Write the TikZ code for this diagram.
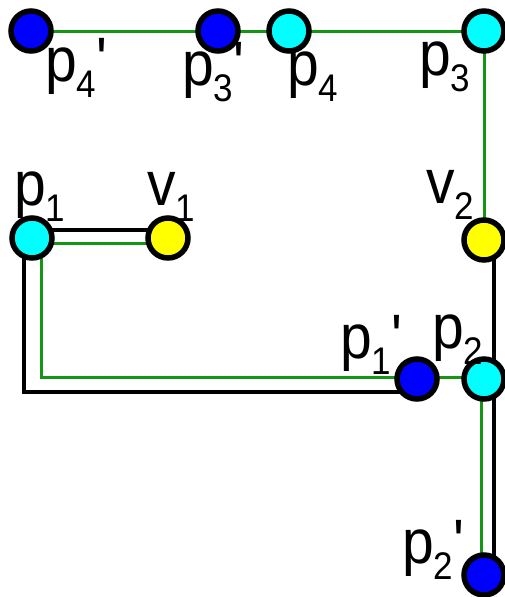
\documentclass[tikz,border=0pt]{standalone}
\usepackage{fontspec}
\setmainfont{Liberation Sans}
\newcommand\lsub[1]{\raisebox{-0.26em}{\fontsize{35}{35}\selectfont #1}}
\newcommand\lprime{\textquotesingle}
\newcommand\ltxt[1]{\scalebox{1}[1.1]{#1}}
\definecolor{lgreen}{RGB}{20,150,20}
\definecolor{dblue}{RGB}{0,0,255}
\definecolor{dcyan}{RGB}{0,255,255}
\definecolor{dyellow}{RGB}{255,255,0}
\tikzset{
  dot/.style={circle,draw=black,line width=5.5pt,minimum size=40pt,inner sep=0pt},
  bluedot/.style={dot,fill=dblue},
  cyandot/.style={dot,fill=dcyan},
  yellowdot/.style={dot,fill=dyellow},
  gline/.style={draw=lgreen,line width=3pt},
  kline/.style={draw=black,line width=3.2pt},
  lab/.style={anchor=base west,inner sep=0pt,font=\fontsize{57}{57}\selectfont}
}
\begin{document}
\begin{tikzpicture}[x=1pt,y=-1pt]
\useasboundingbox (0,0) rectangle (504,597);
% node coordinates
\coordinate (cp4p) at (31,31);
\coordinate (cp3p) at (218,31);
\coordinate (cp4) at (289,31);
\coordinate (cp3) at (484,31);
\coordinate (cv2) at (484,240);
\coordinate (cp1) at (32,238);
\coordinate (cv1) at (168,238);
\coordinate (cp1p) at (417,379);
\coordinate (cp2) at (484,379);
\coordinate (cp2p) at (484,575);
% connectors
\draw[gline] (cp4p) -- (cp3p) -- (cp4) -- (cp3) -- (cv2);
\draw[kline] ([xshift=10pt]cv2) -- ([xshift=10pt]cp2p);
\draw[kline] ([yshift=8pt]cv1) -| ([xshift=-8pt]cp1) |- ([yshift=-13pt]cp1p);
\draw[gline] ([yshift=-5pt]cv1) -| ([xshift=9pt]cp1) |- ([xshift=-3pt,yshift=2pt]cp2) -- ([xshift=-3pt]cp2p);
% nodes
\node[bluedot] (p4p) at (cp4p) {};
\node[bluedot] (p3p) at (cp3p) {};
\node[cyandot] (p4) at (cp4) {};
\node[cyandot] (p3) at (cp3) {};
\node[yellowdot] (v2) at (cv2) {};
\node[cyandot] (p1) at (cp1) {};
\node[yellowdot] (v1) at (cv1) {};
\node[bluedot] (p1p) at (cp1p) {};
\node[cyandot] (p2) at (cp2) {};
\node[bluedot] (p2p) at (cp2p) {};
% labels
\node[lab] (lp4p) at (45,81) {\ltxt{p\lsub{4}\lprime}};
\node[lab] (lp3p) at (182,85) {\ltxt{p\lsub{3}\lprime}};
\node[lab] (lp4) at (287,85) {\ltxt{p\lsub{4}}};
\node[lab] (lp3) at (419,75) {\ltxt{p\lsub{3}}};
\node[lab] (lp1) at (14,205) {\ltxt{p\lsub{1}}};
\node[lab] (lv1) at (147,205) {\ltxt{v\lsub{1}}};
\node[lab] (lv2) at (426,203) {\ltxt{v\lsub{2}}};
\node[lab] (lp1p) at (340,358) {\ltxt{p\lsub{1}\lprime}};
\node[lab] (lp2) at (432,348) {\ltxt{p\lsub{2}}};
\node[lab] (lp2p) at (402,563) {\ltxt{p\lsub{2}\lprime}};
\end{tikzpicture}
\end{document}
